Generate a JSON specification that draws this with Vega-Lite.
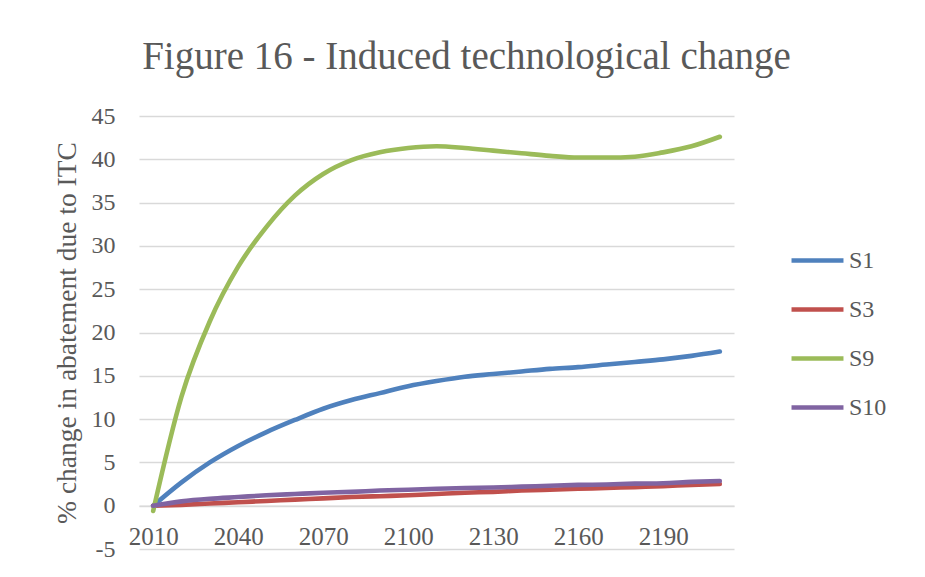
{
  "$schema": "https://vega.github.io/schema/vega-lite/v6.json",
  "autosize": {"type": "none"},
  "padding": {"left": 139, "top": 116, "right": 191, "bottom": 28},
  "width": 595,
  "height": 433,
  "background": "#ffffff",
  "title": {
    "text": "Figure 16 - Induced technological change",
    "font": "Liberation Serif",
    "fontSize": 39,
    "fontWeight": "normal",
    "color": "#595959",
    "anchor": "middle",
    "dx": 30,
    "offset": 27
  },
  "config": {
    "view": {"stroke": null},
    "font": "Liberation Serif"
  },
  "data": {
    "values": [
      {"year": 2010, "series": "S1", "value": 0},
      {"year": 2020, "series": "S1", "value": 2.7},
      {"year": 2030, "series": "S1", "value": 5.0},
      {"year": 2040, "series": "S1", "value": 6.9},
      {"year": 2050, "series": "S1", "value": 8.5},
      {"year": 2060, "series": "S1", "value": 9.9},
      {"year": 2070, "series": "S1", "value": 11.2},
      {"year": 2080, "series": "S1", "value": 12.2},
      {"year": 2090, "series": "S1", "value": 13.0},
      {"year": 2100, "series": "S1", "value": 13.8},
      {"year": 2110, "series": "S1", "value": 14.4},
      {"year": 2120, "series": "S1", "value": 14.9},
      {"year": 2130, "series": "S1", "value": 15.2},
      {"year": 2140, "series": "S1", "value": 15.5},
      {"year": 2150, "series": "S1", "value": 15.8},
      {"year": 2160, "series": "S1", "value": 16.0},
      {"year": 2170, "series": "S1", "value": 16.3},
      {"year": 2180, "series": "S1", "value": 16.6},
      {"year": 2190, "series": "S1", "value": 16.9},
      {"year": 2200, "series": "S1", "value": 17.3},
      {"year": 2210, "series": "S1", "value": 17.8},
      {"year": 2010, "series": "S3", "value": 0},
      {"year": 2020, "series": "S3", "value": 0.1},
      {"year": 2030, "series": "S3", "value": 0.25},
      {"year": 2040, "series": "S3", "value": 0.4},
      {"year": 2050, "series": "S3", "value": 0.55},
      {"year": 2060, "series": "S3", "value": 0.7},
      {"year": 2070, "series": "S3", "value": 0.85},
      {"year": 2080, "series": "S3", "value": 1.0},
      {"year": 2090, "series": "S3", "value": 1.1},
      {"year": 2100, "series": "S3", "value": 1.2},
      {"year": 2110, "series": "S3", "value": 1.35},
      {"year": 2120, "series": "S3", "value": 1.5},
      {"year": 2130, "series": "S3", "value": 1.6},
      {"year": 2140, "series": "S3", "value": 1.75},
      {"year": 2150, "series": "S3", "value": 1.85},
      {"year": 2160, "series": "S3", "value": 1.95},
      {"year": 2170, "series": "S3", "value": 2.05},
      {"year": 2180, "series": "S3", "value": 2.15},
      {"year": 2190, "series": "S3", "value": 2.25},
      {"year": 2200, "series": "S3", "value": 2.4},
      {"year": 2210, "series": "S3", "value": 2.5},
      {"year": 2010, "series": "S9", "value": -0.6},
      {"year": 2020, "series": "S9", "value": 12.6},
      {"year": 2030, "series": "S9", "value": 21.3},
      {"year": 2040, "series": "S9", "value": 27.6},
      {"year": 2050, "series": "S9", "value": 32.2},
      {"year": 2060, "series": "S9", "value": 35.8},
      {"year": 2070, "series": "S9", "value": 38.3},
      {"year": 2080, "series": "S9", "value": 39.9},
      {"year": 2090, "series": "S9", "value": 40.8},
      {"year": 2100, "series": "S9", "value": 41.3},
      {"year": 2110, "series": "S9", "value": 41.5},
      {"year": 2120, "series": "S9", "value": 41.3},
      {"year": 2130, "series": "S9", "value": 41.0},
      {"year": 2140, "series": "S9", "value": 40.7},
      {"year": 2150, "series": "S9", "value": 40.4},
      {"year": 2160, "series": "S9", "value": 40.2},
      {"year": 2170, "series": "S9", "value": 40.2},
      {"year": 2180, "series": "S9", "value": 40.3},
      {"year": 2190, "series": "S9", "value": 40.8},
      {"year": 2200, "series": "S9", "value": 41.5},
      {"year": 2210, "series": "S9", "value": 42.6},
      {"year": 2010, "series": "S10", "value": 0},
      {"year": 2020, "series": "S10", "value": 0.5},
      {"year": 2030, "series": "S10", "value": 0.8},
      {"year": 2040, "series": "S10", "value": 1.0},
      {"year": 2050, "series": "S10", "value": 1.2},
      {"year": 2060, "series": "S10", "value": 1.35},
      {"year": 2070, "series": "S10", "value": 1.5},
      {"year": 2080, "series": "S10", "value": 1.6},
      {"year": 2090, "series": "S10", "value": 1.75},
      {"year": 2100, "series": "S10", "value": 1.85},
      {"year": 2110, "series": "S10", "value": 1.95},
      {"year": 2120, "series": "S10", "value": 2.05},
      {"year": 2130, "series": "S10", "value": 2.1},
      {"year": 2140, "series": "S10", "value": 2.2},
      {"year": 2150, "series": "S10", "value": 2.3},
      {"year": 2160, "series": "S10", "value": 2.4},
      {"year": 2170, "series": "S10", "value": 2.45},
      {"year": 2180, "series": "S10", "value": 2.55},
      {"year": 2190, "series": "S10", "value": 2.6},
      {"year": 2200, "series": "S10", "value": 2.75},
      {"year": 2210, "series": "S10", "value": 2.85}
    ]
  },
  "mark": {"type": "line", "interpolate": "monotone", "strokeWidth": 4.6, "strokeCap": "round", "strokeJoin": "round"},
  "encoding": {
    "x": {
      "field": "year",
      "type": "ordinal",
      "scale": {"type": "point", "padding": 0.5},
      "axis": {
        "title": null,
        "values": [2010, 2040, 2070, 2100, 2130, 2160, 2190],
        "labelAngle": 0,
        "ticks": false,
        "grid": false,
        "domainColor": "#d9d9d9",
        "domainWidth": 1.3,
        "offset": -43.3,
        "labelPadding": 19,
        "labelFontSize": 25,
        "labelColor": "#595959",
        "labelFont": "Liberation Serif"
      }
    },
    "y": {
      "field": "value",
      "type": "quantitative",
      "scale": {"domain": [-5, 45], "nice": false, "zero": false},
      "axis": {
        "title": "% change in abatement due to ITC",
        "titleFont": "Liberation Serif",
        "titleFontSize": 27.5,
        "titleFontWeight": "normal",
        "titleColor": "#595959",
        "titlePadding": 10,
        "values": [-5, 0, 5, 10, 15, 20, 25, 30, 35, 40, 45],
        "labelExpr": "toString(datum.value)",
        "domain": false,
        "ticks": false,
        "gridColor": "#d9d9d9",
        "gridWidth": 1.3,
        "labelPadding": 24,
        "labelFontSize": 24,
        "labelColor": "#595959",
        "labelFont": "Liberation Serif"
      }
    },
    "color": {
      "field": "series",
      "type": "nominal",
      "sort": ["S1", "S3", "S9", "S10"],
      "scale": {"domain": ["S1", "S3", "S9", "S10"], "range": ["#4f81bd", "#c0504d", "#9bbb59", "#8064a2"]},
      "legend": {
        "title": null,
        "orient": "none",
        "legendX": 650,
        "legendY": 116,
        "symbolType": "stroke",
        "symbolSize": 2700,
        "symbolStrokeWidth": 4.6,
        "labelFontSize": 24,
        "labelColor": "#595959",
        "labelFont": "Liberation Serif",
        "labelOffset": 3,
        "rowPadding": 8
      }
    }
  }
}
